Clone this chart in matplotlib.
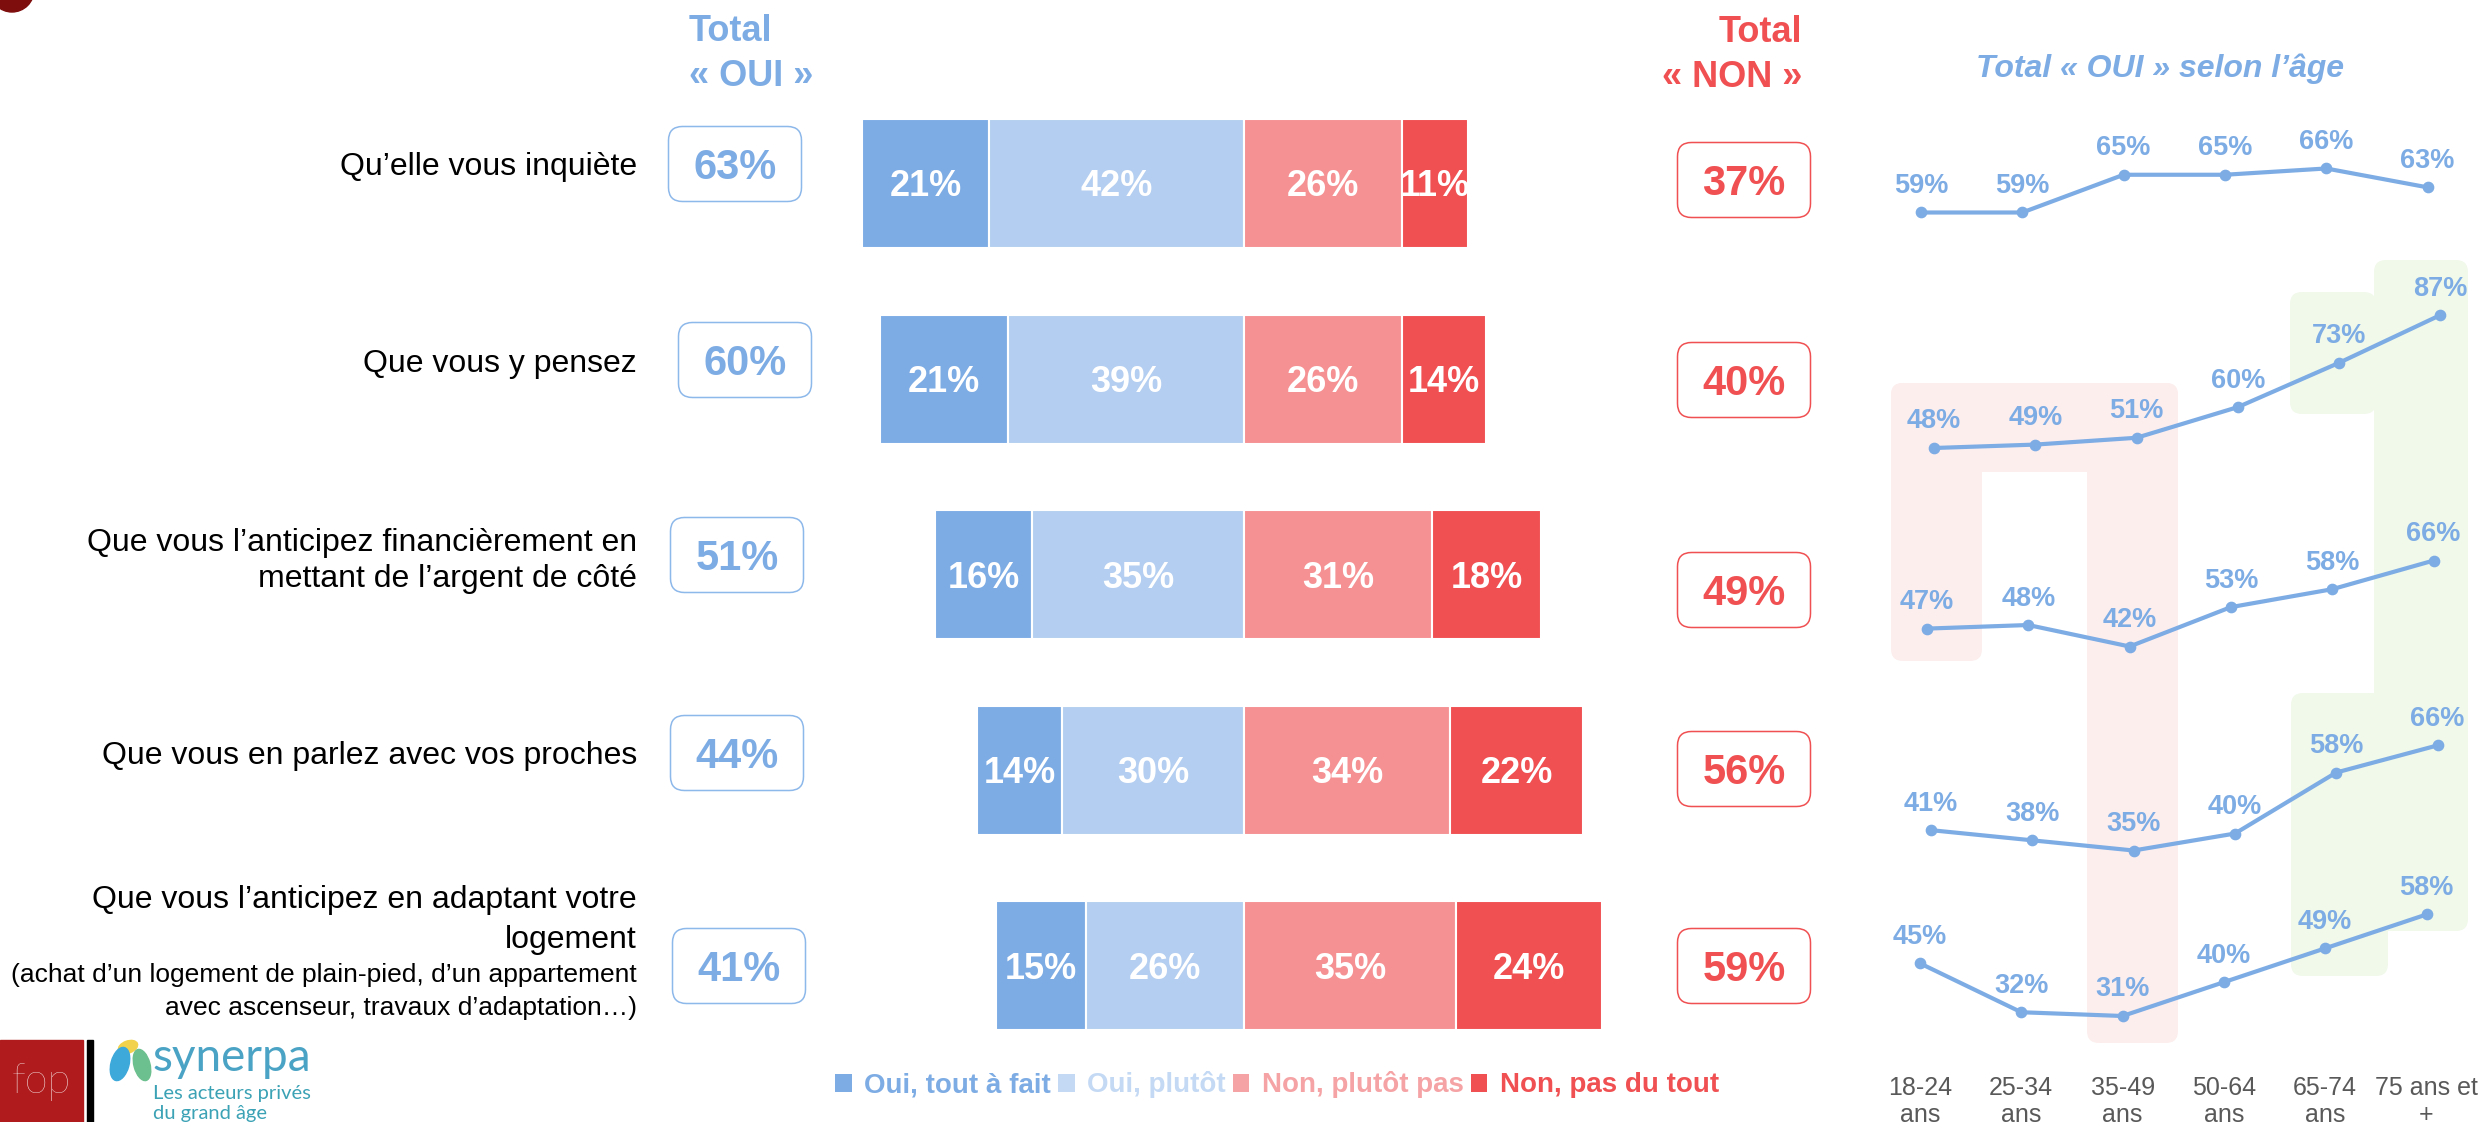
import matplotlib
matplotlib.use("Agg")
import matplotlib.pyplot as plt
from matplotlib.patches import FancyBboxPatch, Rectangle, Ellipse, Circle, Patch
from matplotlib import transforms

plt.rcParams['font.family'] = ['Liberation Sans', 'DejaVu Sans']

W, H = 2481, 1122

# ---- data -------------------------------------------------------------
items = [
    ["Qu’elle vous inquiète"],
    ["Que vous y pensez"],
    ["Que vous l’anticipez financièrement en", "mettant de l’argent de côté"],
    ["Que vous en parlez avec vos proches"],
    ["Que vous l’anticipez en adaptant votre", "logement",
     "(achat d’un logement de plain-pied, d’un appartement",
     "avec ascenseur, travaux d’adaptation…)"],
]
series = ["Oui, tout à fait", "Oui, plutôt", "Non, plutôt pas", "Non, pas du tout"]
oui_tout = [21, 21, 16, 14, 15]
oui_plutot = [42, 39, 35, 30, 26]
non_plutot = [26, 26, 31, 34, 35]
non_tout = [11, 14, 18, 22, 24]
total_oui = [a + b for a, b in zip(oui_tout, oui_plutot)]
total_non = [a + b for a, b in zip(non_plutot, non_tout)]

ages = ["18-24\nans", "25-34\nans", "35-49\nans", "50-64\nans", "65-74\nans", "75 ans et\n+"]
oui_age = [
    [59, 59, 65, 65, 66, 63],
    [48, 49, 51, 60, 73, 87],
    [47, 48, 42, 53, 58, 66],
    [41, 38, 35, 40, 58, 66],
    [45, 32, 31, 40, 49, 58],
]

# ---- style / layout ---------------------------------------------------
BLUE = '#7DACE4'
BLUE_L = '#B3CEF0'
PINK = '#F69193'
RED = '#F05052'
bar_colors = [BLUE, BLUE_L, PINK, RED]
legend_colors = [BLUE, '#C3D9F4', '#F6A3A5', RED]

center_px = 1244       # oui / non split
px_per_pct = 6.06
row0_px, row_step = 183.5, 195.6
bar_h = 129 / row_step

label_right = 637
label_y = [[164], [361], [540, 576], [753], [897, 937, 973, 1006]]
label_size = [[23], [23], [23, 23], [23], [23, 23, 19, 19]]
oui_box = [(735, 164), (745, 360), (737, 555), (737, 753), (739, 966)]
non_box = [(1744, 180), (1744, 380), (1744, 590), (1744, 769), (1744, 966)]
box_w, box_h = 133, 75

# line rows: x of first point, px per point of %, pixel of min value
line_x0 = [1921, 1934, 1927, 1931, 1920]
line_dx = 101.3
line_scale = [6.29, 3.41, 3.58, 3.39, 3.76]
line_base = [212.5, 448, 646.5, 850.5, 1016]

highlights = [
    (1891, 383, 2178, 472, '#FDEEEE'),
    (1891, 383, 1982, 661, '#FDEEEE'),
    (2087, 383, 2178, 1043, '#FDEEEE'),
    (2290, 292, 2376, 414, '#F1F9EA'),
    (2374, 260, 2468, 931, '#F1F9EA'),
    (2291, 693, 2388, 976, '#F1F9EA'),
]

fig = plt.figure(figsize=(W / 100, H / 100), dpi=100)
bg = fig.add_axes([0, 0, 1, 1], zorder=0)
bg.set_xlim(0, W)
bg.set_ylim(H, 0)
bg.axis('off')


def ctext(x, y, s, size, **kw):
    # y is the middle of the capitals, in pixels from the top
    return bg.text(x, y + 0.497 * size, s, fontsize=size, va='baseline', **kw)


# headers
ctext(689, 28, "Total", 26, color=BLUE, weight='bold', ha='left')
ctext(689, 73, "« OUI »", 26, color=BLUE, weight='bold', ha='left')
ctext(1802, 29, "Total", 26, color=RED, weight='bold', ha='right')
ctext(1802, 74, "« NON »", 26, color=RED, weight='bold', ha='right')
ctext(2160, 66, "Total « OUI » selon l’âge", 23, color=BLUE, weight='bold',
      style='italic', ha='center')

# labels and total boxes
for i, lines in enumerate(items):
    for s, y, sz in zip(lines, label_y[i], label_size[i]):
        ctext(label_right, y, s, sz, color='black', ha='right')
    for (cx, cy), val, col, ec in [(oui_box[i], total_oui[i], BLUE, '#8DB8EA'),
                                   (non_box[i], total_non[i], RED, RED)]:
        bg.add_patch(FancyBboxPatch((cx - box_w / 2, cy - box_h / 2), box_w, box_h,
                                    boxstyle="round,pad=0,rounding_size=14",
                                    fc='white', ec=ec, lw=1.1))
        ctext(cx, cy, f"{val}%", 30, color=col, weight='bold', ha='center')

# highlight zones behind the age lines
for x0, y0, x1, y1, c in highlights:
    bg.add_patch(FancyBboxPatch((x0, y0), x1 - x0, y1 - y0,
                                boxstyle="round,pad=0,rounding_size=12",
                                fc=c, ec='none'))

# logos
bg.add_patch(Circle((12, -10), 22, color='#7E0D0D'))
bg.add_patch(Rectangle((0, 1040), 83, 82, color='#B01C1E'))
bg.text(41, 1082, "fop", fontsize=30, color='white', ha='center', va='center',
        family=['Lato', 'DejaVu Sans'], weight='light')
bg.add_patch(Rectangle((87, 1040), 6, 82, color='black'))
bg.add_patch(Ellipse((128, 1047), 20, 12, angle=-20, color='#F2D24B'))
bg.add_patch(Ellipse((120, 1064), 18, 34, angle=15, color='#3DA8DA'))
bg.add_patch(Ellipse((142, 1065), 16, 32, angle=-15, color='#6CBF8E'))
bg.text(153, 1058, "synerpa", fontsize=33, color='#4AA3C4', ha='left', va='center',
        family=['Lato', 'DejaVu Sans'])
bg.text(153, 1093, "Les acteurs privés", fontsize=14.5, color='#3BA2B5', ha='left',
        va='center', family=['Lato', 'DejaVu Sans'])
bg.text(153, 1114, "du grand âge", fontsize=14.5, color='#3BA2B5', ha='left',
        va='center', family=['Lato', 'DejaVu Sans'])

# ---- diverging bars ---------------------------------------------------
half = 70
axb = fig.add_axes([(center_px - half * px_per_pct) / W, 0,
                    2 * half * px_per_pct / W, 1], zorder=1)
axb.set_xlim(-half, half)
axb.set_ylim((H - row0_px) / row_step, -row0_px / row_step)
axb.axis('off')
axb.patch.set_alpha(0)

n = len(items)
for i in range(n):
    lefts = [-total_oui[i], -oui_plutot[i], 0, non_plutot[i]]
    widths = [oui_tout[i], oui_plutot[i], non_plutot[i], non_tout[i]]
    for left, w, c in zip(lefts, widths, bar_colors):
        rect = axb.barh(i, w, left=left, height=bar_h, color=c,
                        edgecolor='white', linewidth=1.5)[0]
        t = axb.annotate(f"{w}%", (left + w / 2, i), xytext=(0, -12.9),
                         textcoords='offset pixels', ha='center', va='baseline',
                         fontsize=26, weight='bold', color='white')
        t.set_clip_path(rect)

handles = [Patch(facecolor=c) for c in legend_colors]
leg = fig.legend(handles, series, loc='center', bbox_to_anchor=(1277 / W, 1 - 1085 / H),
                 ncol=4, frameon=False, prop={'weight': 'bold', 'size': 20},
                 handlelength=0.6, handleheight=0.6, handletextpad=0.45,
                 columnspacing=0.25, borderaxespad=0, borderpad=0)
for t, c in zip(leg.get_texts(), legend_colors):
    t.set_color(c)

# ---- age lines --------------------------------------------------------
for r, vals in enumerate(oui_age):
    s = line_scale[r]
    vmin = min(vals)
    top = line_base[r] - (max(vals) - vmin) * s - 60
    bottom = line_base[r] + 30
    left = line_x0[r] - 60
    width = 5 * line_dx + 120
    ax = fig.add_axes([left / W, 1 - bottom / H, width / W, (bottom - top) / H], zorder=1)
    ax.patch.set_alpha(0)
    ax.axis('off')
    ax.set_xlim(-60 / line_dx, 5 + 60 / line_dx)
    ax.set_ylim(vmin - 30 / s, vmin + (line_base[r] - top) / s)
    xs = range(len(vals))
    ax.plot(xs, vals, color=BLUE, lw=3.0, marker='o', ms=7.4, clip_on=False)
    for x, v in zip(xs, vals):
        ax.annotate(f"{v}%", (x, v), xytext=(0, 19.5), textcoords='offset pixels',
                    ha='center', va='baseline', fontsize=19.5, weight='bold',
                    color=BLUE, annotation_clip=False)
    if r == len(oui_age) - 1:
        tr = transforms.blended_transform_factory(ax.transData, bg.transData)
        for x, lab in enumerate(ages):
            for k, line in enumerate(lab.split("\n")):
                bg.text(x, 1086 + 27 * k + 0.497 * 18, line, transform=tr, fontsize=18,
                        color='#595959', ha='center', va='baseline')

fig.savefig("out.png", dpi=100)
